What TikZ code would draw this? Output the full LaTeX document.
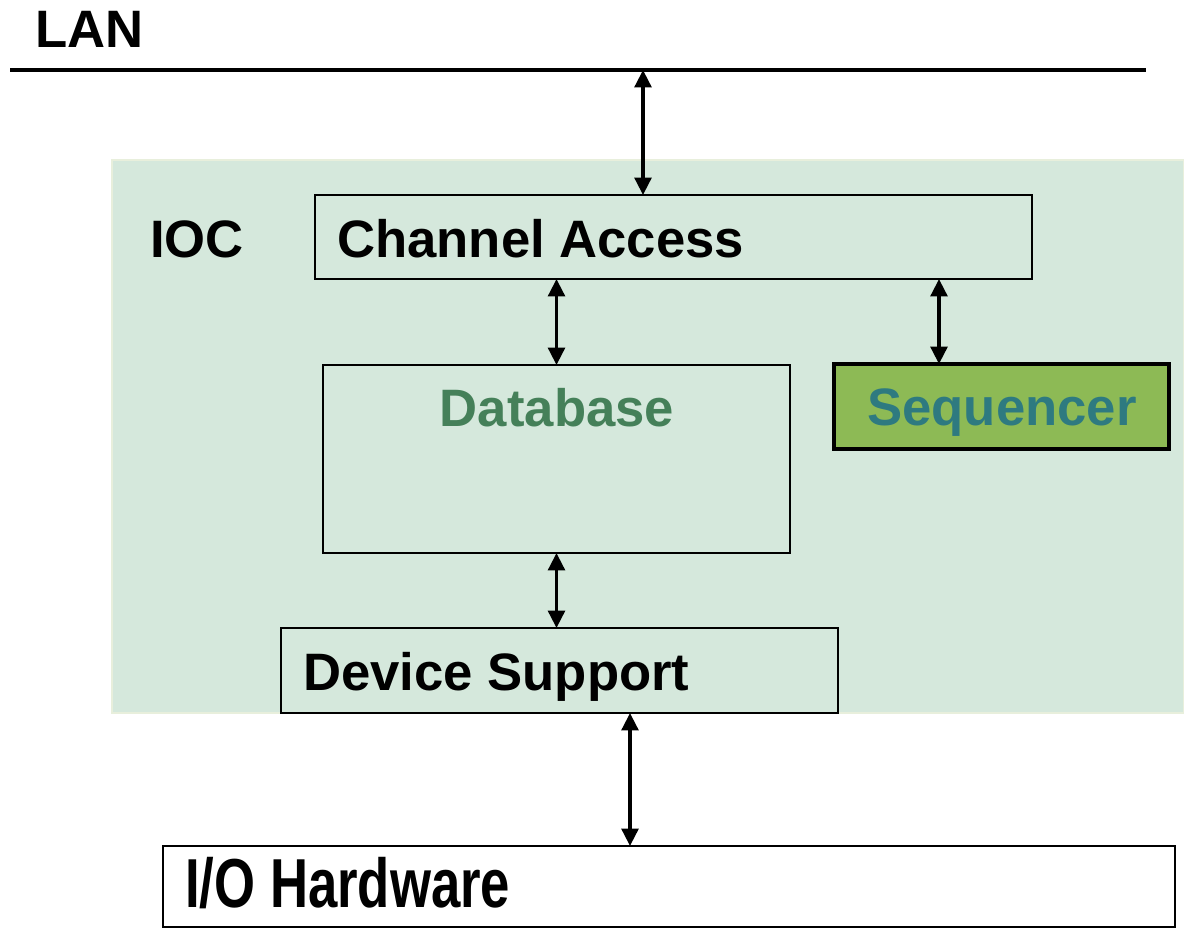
\documentclass[tikz,border=0pt]{standalone}
\usepackage{fontspec}
\setmainfont{Liberation Sans}
\usetikzlibrary{arrows.meta}
\definecolor{iocbg}{RGB}{213,232,220}
\definecolor{iocedge}{RGB}{232,239,220}
\definecolor{dbtext}{RGB}{69,128,89}
\definecolor{seqfill}{RGB}{141,186,85}
\definecolor{seqtext}{RGB}{46,122,128}
\tikzset{
  box/.style={draw=black, line width=2.2pt, inner sep=0pt, outer sep=0pt},
  lbl/.style={anchor=base west, inner sep=0pt, font=\bfseries\fontsize{39.5}{44}\selectfont},
  clbl/.style={anchor=base, inner sep=0pt, font=\bfseries\fontsize{39.5}{44}\selectfont},
  biarrow/.style={line width=2.6pt, {Triangle[width=12.5pt,length=13pt]}-{Triangle[width=12.5pt,length=13pt]}},
}
\begin{document}
\begin{tikzpicture}[x=0.75pt,y=-0.75pt]
\useasboundingbox (0,0) rectangle (1184,929);
% IOC background
\node[fill=iocbg, draw=iocedge, line width=2pt, minimum width=804pt, minimum height=414.75pt, inner sep=0pt] (ioc) at (648,436.5) {};
% LAN
\coordinate (lanL) at (10,70);
\coordinate (lanR) at (1146,70);
\draw[line width=2.4pt] (lanL) -- (lanR);
\node[lbl] (lantxt) at (35,47) {LAN};
\node[lbl] (ioctxt) at (150,257) {IOC};
% boxes
\node[box, minimum width=537.75pt, minimum height=63pt] (ca) at (673.5,237) {};
\node[lbl] (catxt) at (337,257) {Channel Access};
\node[box, minimum width=350.25pt, minimum height=141pt] (db) at (556.5,459) {};
\node[clbl, text=dbtext] (dbtxt) at (557,426) {Database};
\node[box, fill=seqfill, line width=3pt, minimum width=251.25pt, minimum height=63.75pt] (seq) at (1001.5,406.5) {};
\node[clbl, text=seqtext] (seqtxt) at (1002,425) {Sequencer};
\node[box, minimum width=417.75pt, minimum height=63.75pt] (ds) at (559.5,670.5) {};
\node[lbl] (dstxt) at (303,690) {Device Support};
\node[box, fill=white, minimum width=759pt, minimum height=60.75pt] (io) at (669,886.5) {};
\node[anchor=base west, inner sep=0pt, font=\bfseries\fontsize{52}{58}\selectfont] (iotxt) at (185,907) {\scalebox{0.76}[1]{I/O Hardware}};
% connectors
\coordinate (a1) at (643,70);
\draw[biarrow] (a1) -- (a1 |- ca.north);
\draw[biarrow] (db.north |- ca.south) -- (db.north);
\coordinate (a3) at (939,279);
\draw[biarrow] (a3 |- ca.south) -- (a3 |- seq.north);
\draw[biarrow] (db.south) -- (db.south |- ds.north);
\coordinate (a5) at (630,713);
\draw[biarrow] (a5 |- ds.south) -- (a5 |- io.north);
\end{tikzpicture}
\end{document}
